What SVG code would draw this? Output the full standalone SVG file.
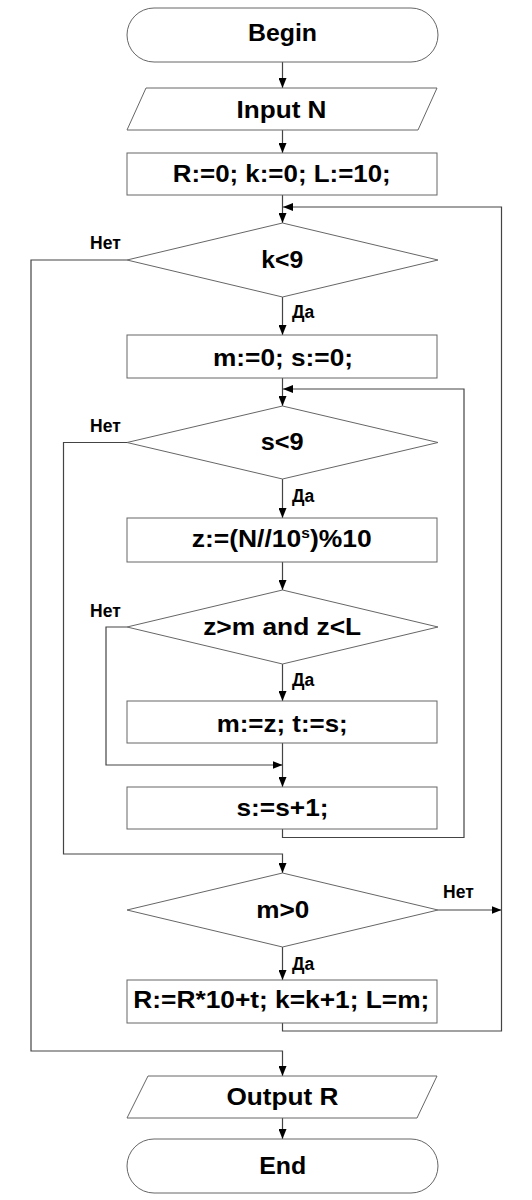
<svg xmlns="http://www.w3.org/2000/svg" width="532" height="1200" viewBox="0 0 532 1200">
<style>
.shape{fill:#fff;stroke:#666;stroke-width:1}
.conn{fill:none;stroke:#444;stroke-width:1.2}
.t{font-family:"Liberation Sans",Arial,sans-serif;font-weight:bold;font-size:24px;fill:#000;text-anchor:middle}
.lbl{font-family:"Liberation Sans",Arial,sans-serif;font-weight:bold;font-size:17.5px;fill:#000}
</style>
<defs>
<marker id="arr" markerWidth="10" markerHeight="8" refX="10" refY="4" orient="auto" markerUnits="userSpaceOnUse">
<path d="M0,0 L10,4 L0,8 z" fill="#000"/>
</marker>
</defs>
<rect width="532" height="1200" fill="#fff"/>
<g id="connectors">
<path class="conn" d="M282.5,62 V88" marker-end="url(#arr)"/>
<path class="conn" d="M282.5,130 V153" marker-end="url(#arr)"/>
<path class="conn" d="M282.5,195 V223" marker-end="url(#arr)"/>
<path class="conn" d="M282.5,297 V335" marker-end="url(#arr)"/>
<path class="conn" d="M282.5,378 V406" marker-end="url(#arr)"/>
<path class="conn" d="M282.5,479 V518" marker-end="url(#arr)"/>
<path class="conn" d="M282.5,562 V590" marker-end="url(#arr)"/>
<path class="conn" d="M282.5,664 V701" marker-end="url(#arr)"/>
<path class="conn" d="M282.5,743 V787" marker-end="url(#arr)"/>
<path class="conn" d="M127,627 H106 V765 H282.5" marker-end="url(#arr)"/>
<path class="conn" d="M282.5,829 V837.5 H464 V389 H283" marker-end="url(#arr)"/>
<path class="conn" d="M127,442.5 H63.5 V854 H282.5 V873" marker-end="url(#arr)"/>
<path class="conn" d="M438,910 H501.5" marker-end="url(#arr)"/>
<path class="conn" d="M282.5,947 V980" marker-end="url(#arr)"/>
<path class="conn" d="M282.5,1023 V1031 H501.5 V207 H283" marker-end="url(#arr)"/>
<path class="conn" d="M127,260 H31 V1051 H282.5 V1076" marker-end="url(#arr)"/>
<path class="conn" d="M282.5,1118 V1139" marker-end="url(#arr)"/>
</g>
<g id="begin">
<rect class="shape" x="127" y="8" width="311" height="54" rx="27"/>
<text class="t" x="282.5" y="41" textLength="69" lengthAdjust="spacingAndGlyphs">Begin</text>
</g>
<g id="input">
<polygon class="shape" points="146,88 437,88 418,130 127,130"/>
<text class="t" x="281.5" y="118" textLength="90" lengthAdjust="spacingAndGlyphs">Input N</text>
</g>
<g id="init">
<rect class="shape" x="127" y="153" width="310" height="42"/>
<text class="t" x="281.7" y="182" textLength="218" lengthAdjust="spacingAndGlyphs">R:=0; k:=0; L:=10;</text>
</g>
<g id="cond-k">
<polygon class="shape" points="282.5,223 438,260 282.5,297 127,260"/>
<text class="t" x="282.2" y="268" textLength="42" lengthAdjust="spacingAndGlyphs">k&lt;9</text>
<text class="lbl" x="90" y="249">Нет</text>
<text class="lbl" x="292" y="318">Да</text>
</g>
<g id="init-ms">
<rect class="shape" x="127" y="335" width="310" height="43"/>
<text class="t" x="283" y="366" textLength="140" lengthAdjust="spacingAndGlyphs">m:=0; s:=0;</text>
</g>
<g id="cond-s">
<polygon class="shape" points="282.5,406 438,442.5 282.5,479 127,442.5"/>
<text class="t" x="282.2" y="450" textLength="43" lengthAdjust="spacingAndGlyphs">s&lt;9</text>
<text class="lbl" x="90" y="432">Нет</text>
<text class="lbl" x="292" y="502">Да</text>
</g>
<g id="calc-z">
<rect class="shape" x="127" y="518" width="310" height="44"/>
<text class="t" x="281.7" y="547" textLength="180" lengthAdjust="spacingAndGlyphs">z:=(N//10<tspan font-size="14" dy="-9">s</tspan><tspan dy="9">)%10</tspan></text>
</g>
<g id="cond-z">
<polygon class="shape" points="282.5,590 438,627 282.5,664 127,627"/>
<text class="t" x="282.2" y="635" textLength="158" lengthAdjust="spacingAndGlyphs">z&gt;m and z&lt;L</text>
<text class="lbl" x="90" y="617">Нет</text>
<text class="lbl" x="292" y="686">Да</text>
</g>
<g id="assign-mt">
<rect class="shape" x="127" y="701" width="310" height="42"/>
<text class="t" x="282.2" y="732" textLength="131" lengthAdjust="spacingAndGlyphs">m:=z; t:=s;</text>
</g>
<g id="inc-s">
<rect class="shape" x="127" y="787" width="310" height="42"/>
<text class="t" x="282.5" y="816" textLength="92" lengthAdjust="spacingAndGlyphs">s:=s+1;</text>
</g>
<g id="cond-m">
<polygon class="shape" points="282.5,873 438,910 282.5,947 127,910"/>
<text class="t" x="282.8" y="918" textLength="53" lengthAdjust="spacingAndGlyphs">m&gt;0</text>
<text class="lbl" x="443" y="898">Нет</text>
<text class="lbl" x="292" y="970">Да</text>
</g>
<g id="update-r">
<rect class="shape" x="127" y="980" width="310" height="43"/>
<text class="t" x="281.3" y="1008" textLength="296" lengthAdjust="spacingAndGlyphs">R:=R*10+t; k=k+1; L=m;</text>
</g>
<g id="output">
<polygon class="shape" points="148,1076 437,1076 417,1118 127,1118"/>
<text class="t" x="282.5" y="1105" textLength="112" lengthAdjust="spacingAndGlyphs">Output R</text>
</g>
<g id="end">
<rect class="shape" x="127" y="1139" width="311" height="54" rx="27"/>
<text class="t" x="282.7" y="1174" textLength="47" lengthAdjust="spacingAndGlyphs">End</text>
</g>
</svg>
